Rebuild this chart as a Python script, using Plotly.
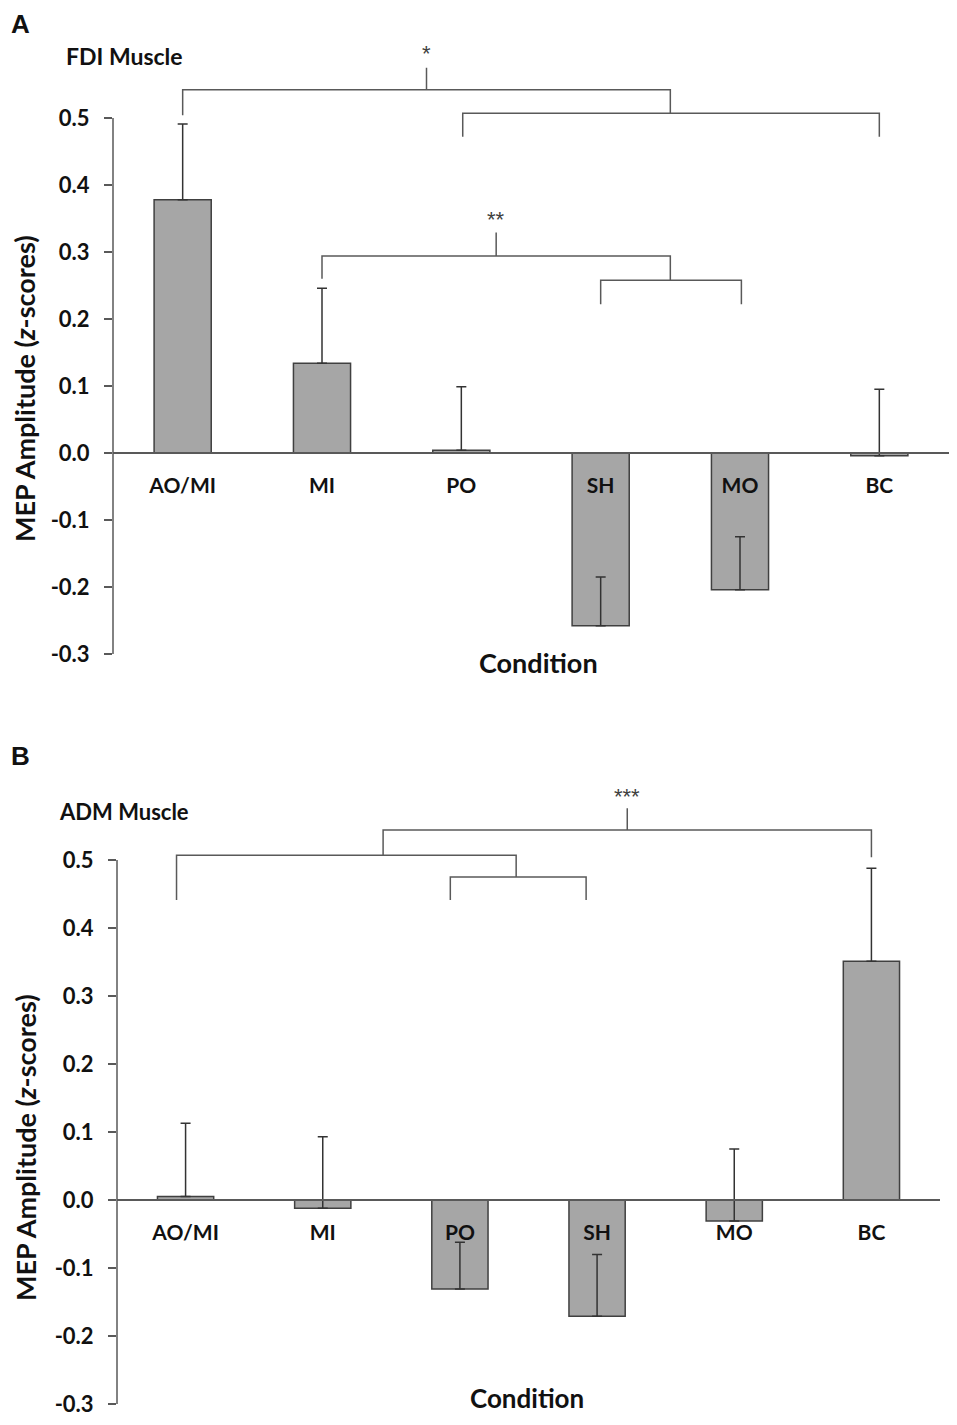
import plotly.graph_objects as go

# data (z-scores); error bars are one-sided (upper)
conditions = ["AO/MI", "MI", "PO", "SH", "MO", "BC"]
fdi_mean = [0.378, 0.134, 0.004, -0.258, -0.204, -0.004]
fdi_se = [0.113, 0.112, 0.095, 0.073, 0.079, 0.099]
adm_mean = [0.005, -0.012, -0.131, -0.171, -0.031, 0.351]
adm_se = [0.108, 0.105, 0.069, 0.091, 0.106, 0.137]
yticks = [-0.3, -0.2, -0.1, 0.0, 0.1, 0.2, 0.3, 0.4, 0.5]

# significance brackets: polylines in (category index, z) units
fdi_brackets = [
    [(0, 0.504), (0, 0.542), (3.5, 0.542), (3.5, 0.507)],
    [(1.75, 0.542), (1.75, 0.575)],
    [(2.01, 0.472), (2.01, 0.507), (5.0, 0.507), (5.0, 0.472)],
    [(1.0, 0.260), (1.0, 0.294), (3.5, 0.294), (3.5, 0.258)],
    [(2.25, 0.294), (2.25, 0.329)],
    [(3.0, 0.222), (3.0, 0.258), (4.01, 0.258), (4.01, 0.222)],
]
fdi_stars = [(1.75, 0.596, "*"), (2.25, 0.348, "**")]
adm_brackets = [
    [(1.44, 0.507), (1.44, 0.544), (5.0, 0.544), (5.0, 0.504)],
    [(3.22, 0.544), (3.22, 0.576)],
    [(-0.066, 0.441), (-0.066, 0.507), (2.41, 0.507), (2.41, 0.475)],
    [(1.93, 0.441), (1.93, 0.475), (2.92, 0.475), (2.92, 0.441)],
]
adm_stars = [(3.22, 0.594, "***")]

OFF = 8  # browser body margin around the plot div
W, H = 957 - 2 * OFF, 1425 - 2 * OFF
FONT = "Lato"
TXT = "#111111"
LINE = "#595959"
YTOP = 0.63
xpos = list(range(len(conditions)))


def px_x(px):
    return (px - OFF) / W


def px_y(px):
    return 1 - (px - OFF) / H


fig = go.Figure()

panels = [
    dict(mean=fdi_mean, se=fdi_se, br=fdi_brackets, st=fdi_stars, xa="x", ya="y",
         xdom=[px_x(113), px_x(949)], zero_px=453, unit_px=670),
    dict(mean=adm_mean, se=adm_se, br=adm_brackets, st=adm_stars, xa="x2", ya="y2",
         xdom=[px_x(117), px_x(940)], zero_px=1200, unit_px=680),
]

for i, p in enumerate(panels):
    fig.add_trace(go.Bar(
        x=xpos, y=p["mean"], xaxis=p["xa"], yaxis=p["ya"], width=0.41,
        marker=dict(color="#a6a6a6", line=dict(color="#404040", width=1.5)),
        error_y=dict(type="data", symmetric=False, array=p["se"],
                     arrayminus=[0] * len(p["se"]), color="#333333",
                     thickness=1.5, width=5),
        showlegend=False, hoverinfo="skip",
    ))
    bx, by = [], []
    for seg in p["br"]:
        bx += [q[0] for q in seg] + [None]
        by += [q[1] for q in seg] + [None]
    fig.add_trace(go.Scatter(
        x=bx, y=by, mode="lines", xaxis=p["xa"], yaxis=p["ya"],
        line=dict(color=LINE, width=1.5), showlegend=False, hoverinfo="skip",
    ))
    for sx, sy, s in p["st"]:
        fig.add_annotation(x=sx, y=sy, text=s, xref=p["xa"], yref=p["ya"],
                           showarrow=False,
                           font=dict(family="Liberation Sans", size=22, color="#404040"))

    lo_px = p["zero_px"] + 0.3 * p["unit_px"]
    hi_px = p["zero_px"] - YTOP * p["unit_px"]
    sfx = "" if i == 0 else "2"
    fig.update_layout(**{
        "xaxis" + sfx: dict(
            domain=p["xdom"], anchor="free", position=px_y(p["zero_px"]),
            type="linear", range=[-0.5, 5.5], automargin=False,
            tickvals=xpos, ticktext=conditions,
            showline=True, linecolor=LINE, linewidth=1.5, ticks="",
            showgrid=False, zeroline=False,
            tickfont=dict(family=FONT, size=21, color=TXT, weight="bold"),
            ticklabelstandoff=14,
        ),
        "yaxis" + sfx: dict(
            domain=[px_y(lo_px), px_y(hi_px)], anchor="x" + sfx, range=[-0.3, YTOP],
            automargin=False,
            tickvals=yticks, ticktext=["%.1f" % v for v in yticks],
            showline=False, showgrid=False, zeroline=False,
            ticks="outside", ticklen=8, tickwidth=1.5, tickcolor=LINE,
            tickfont=dict(family=FONT, size=22, color=TXT, weight="bold"),
            ticklabelstandoff=10,
        ),
    })
    fig.add_shape(type="line", xref="x" + sfx + " domain", yref="y" + sfx,
                  x0=0, x1=0, y0=-0.3, y1=0.5, line=dict(color=LINE, width=1.5))


def label(text, x, y, size, xanchor="center", angle=0, family=FONT):
    fig.add_annotation(x=px_x(x), y=px_y(y), xref="paper", yref="paper", text=text,
                       showarrow=False, xanchor=xanchor, yanchor="middle",
                       textangle=angle,
                       font=dict(family=family, size=size, color=TXT, weight="bold"))


label("A", 9, 24, 26, "left", family="Liberation Sans")
label("B", 9, 756, 26, "left", family="Liberation Sans")
label("FDI Muscle", 64, 56, 23, "left")
label("ADM Muscle", 57, 811, 22, "left")
label("Condition", 538, 662, 27)
label("Condition", 527, 1398, 26)
label("MEP Amplitude (<i>z</i>-scores)", 25, 389, 27, angle=-90)
label("MEP Amplitude (<i>z</i>-scores)", 25, 1148, 27, angle=-90)

fig.update_layout(
    width=W, height=H, margin=dict(l=0, r=0, t=0, b=0),
    paper_bgcolor="white", plot_bgcolor="white",
)

fig.write_html("out.html")
